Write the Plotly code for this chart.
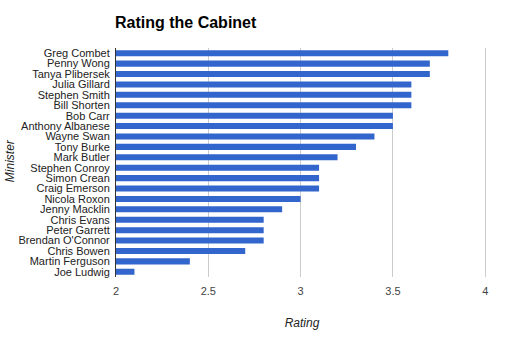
import plotly.graph_objects as go

ministers = [
    "Greg Combet", "Penny Wong", "Tanya Plibersek", "Julia Gillard",
    "Stephen Smith", "Bill Shorten", "Bob Carr", "Anthony Albanese",
    "Wayne Swan", "Tony Burke", "Mark Butler", "Stephen Conroy",
    "Simon Crean", "Craig Emerson", "Nicola Roxon", "Jenny Macklin",
    "Chris Evans", "Peter Garrett", "Brendan O'Connor", "Chris Bowen",
    "Martin Ferguson", "Joe Ludwig",
]
ratings = [
    3.8, 3.7, 3.7, 3.6,
    3.6, 3.6, 3.5, 3.5,
    3.4, 3.3, 3.2, 3.1,
    3.1, 3.1, 3.0, 2.9,
    2.8, 2.8, 2.8, 2.7,
    2.4, 2.1,
]
x_ticks = [2, 2.5, 3, 3.5, 4]

font = "Liberation Sans, Arial, sans-serif"
W, H = 505, 339
ML, MR, MT, MB = 116, 17, 48, 62

fig = go.Figure(
    go.Bar(
        x=ratings,
        y=ministers,
        orientation="h",
        marker=dict(color="#3366cc", line=dict(width=0)),
    )
)

fig.update_layout(
    width=W,
    height=H,
    margin=dict(l=ML, r=MR, t=MT, b=MB),
    paper_bgcolor="white",
    plot_bgcolor="white",
    bargap=0.42,
    showlegend=False,
    font=dict(family=font, size=11, color="#222222"),
    title=dict(
        text="<b>Rating the Cabinet</b>",
        x=115 / W, xanchor="left",
        y=1 - 22 / H, yanchor="middle",
        font=dict(family=font, size=16, color="#000000"),
    ),
    annotations=[
        dict(
            text="<i>Minister</i>",
            xref="paper", yref="paper",
            x=(10 - ML) / (W - ML - MR), y=0.51,
            xanchor="center", yanchor="middle",
            textangle=-90, showarrow=False,
            font=dict(family=font, size=12, color="#222222"),
        )
    ],
)

fig.update_xaxes(
    range=[2, 4.015],
    tickvals=x_ticks,
    ticktext=[str(v) for v in x_ticks],
    showgrid=True,
    gridcolor="#cccccc",
    gridwidth=1,
    zeroline=False,
    showline=False,
    ticks="",
    ticklabelstandoff=6,
    tickfont=dict(size=11, color="#444444"),
    title=dict(text="<i>Rating</i>", font=dict(size=12, color="#222222"), standoff=22),
    automargin=False,
    fixedrange=True,
)

fig.update_yaxes(
    categoryorder="array",
    categoryarray=ministers[::-1],
    tickmode="array",
    tickvals=ministers,
    ticktext=ministers,
    showgrid=False,
    zeroline=False,
    showline=True,
    linecolor="#333333",
    linewidth=1,
    ticks="",
    ticklabelstandoff=3,
    tickfont=dict(size=11, color="#222222"),
    automargin=False,
    fixedrange=True,
)

fig.write_html("out.html")
